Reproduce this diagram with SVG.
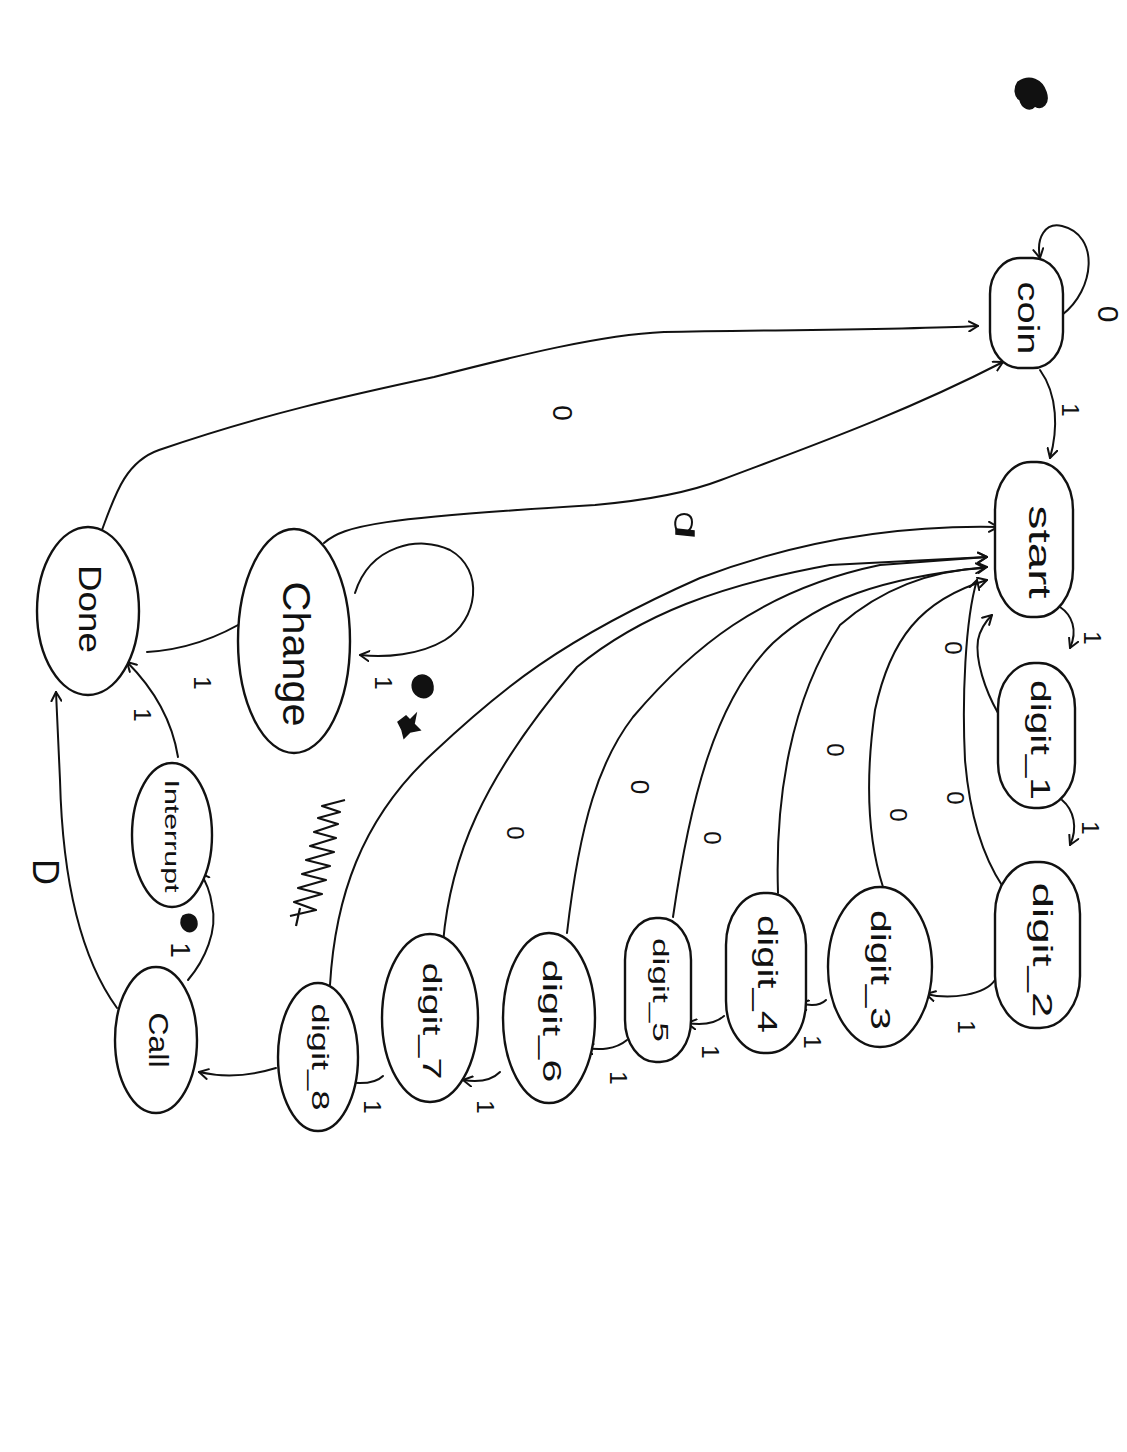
<svg xmlns="http://www.w3.org/2000/svg" width="1127" height="1452" viewBox="0 0 1127 1452">
<defs>
<marker id="arr" viewBox="0 0 12 12" refX="10" refY="6" markerWidth="12" markerHeight="12" markerUnits="userSpaceOnUse" orient="auto">
<path d="M1,1 L10,6 L1,11" fill="none" stroke="#111" stroke-width="2" stroke-linecap="round" stroke-linejoin="round"/>
</marker>
<style>
.node{fill:#fff;stroke:#111;stroke-width:2.4}
.lbl{font-family:"Liberation Sans","DejaVu Sans",sans-serif;fill:#111;text-anchor:middle;dominant-baseline:central}
.e{fill:none;stroke:#111;stroke-width:2;marker-end:url(#arr);stroke-linecap:round}
.el{font-family:"Liberation Sans","DejaVu Sans",sans-serif;fill:#111;text-anchor:middle;dominant-baseline:central}
.scr{fill:#111;stroke:#111;stroke-width:1.5}
</style>
</defs>
<rect width="1127" height="1452" fill="#fff"/>

<g id="connectors">
<path class="e" d="M1062,315 C1095,290 1100,235 1062,226 C1045,222 1036,238 1040,258"/>
<path class="e" d="M1040,370 C1058,395 1058,430 1050,458"/>
<path class="e" d="M1060,607 C1072,615 1078,630 1070,648"/>
<path class="e" d="M1062,800 C1074,810 1078,828 1070,845"/>
<path class="e" d="M995,980 C985,995 950,1000 926,994"/>
<path class="e" d="M826,1000 C820,1006 810,1006 799,1003"/>
<path class="e" d="M724,1016 C715,1024 700,1025 687,1023"/>
<path class="e" d="M627,1040 C615,1050 600,1050 584,1048"/>
<path class="e" d="M500,1072 C490,1082 475,1082 463,1080"/>
<path class="e" d="M383,1076 C375,1084 360,1084 346,1082"/>
<path class="e" d="M276,1068 C250,1076 225,1078 199,1072"/>
<path class="e" d="M117,1008 C75,950 62,860 60,780 L56,692"/>
<path class="e" d="M188,980 C205,960 218,930 212,905 C210,890 205,880 200,873"/>
<path class="e" d="M178,757 C172,720 155,690 127,662"/>
<path class="e" d="M147,652 C180,650 215,640 250,618"/>
<path class="e" d="M355,593 C370,545 420,535 450,550 C485,570 478,620 445,640 C420,655 385,658 360,655"/>
<path class="e" d="M324,543 C345,525 380,518 595,505 C650,500 690,492 721,480 C800,450 900,415 1003,362"/>
<path class="e" d="M102,530 C115,495 125,462 159,450 C260,415 350,395 434,377 C520,355 600,335 664,332 C760,330 900,330 978,326"/>
<path class="e" d="M998,713 C985,690 975,660 978,640 C980,630 985,622 992,615"/>
<path class="e" d="M1003,887 C985,860 970,820 965,760 C962,700 965,620 977,580"/>
<path class="e" d="M883,887 C868,840 865,780 875,710 C890,640 920,600 987,580"/>
<path class="e" d="M778,893 C775,800 790,700 840,625 C880,590 930,570 985,568"/>
<path class="e" d="M673,917 C690,800 715,700 773,643 C820,600 880,578 987,567"/>
<path class="e" d="M567,933 C580,820 600,760 633,717 C690,650 760,590 880,565 L987,557"/>
<path class="e" d="M443,943 C450,860 480,780 577,667 C640,615 720,585 830,565 L987,557"/>
<path class="e" d="M330,985 C335,900 360,820 433,753 C500,690 560,640 700,578 C800,540 900,525 998,527"/>
<text class="el" transform="translate(1108,314) rotate(90)" style="font-size:30px">0</text>
<text class="el" transform="translate(1070,410) rotate(90)" style="font-size:24px">1</text>
<text class="el" transform="translate(1092,638) rotate(90)" style="font-size:24px">1</text>
<text class="el" transform="translate(1090,828) rotate(90)" style="font-size:24px">1</text>
<text class="el" transform="translate(966,1027) rotate(90)" style="font-size:24px">1</text>
<text class="el" transform="translate(812,1042) rotate(90)" style="font-size:24px">1</text>
<text class="el" transform="translate(710,1052) rotate(90)" style="font-size:24px">1</text>
<text class="el" transform="translate(618,1078) rotate(90)" style="font-size:24px">1</text>
<text class="el" transform="translate(485,1107) rotate(90)" style="font-size:24px">1</text>
<text class="el" transform="translate(372,1107) rotate(90)" style="font-size:24px">1</text>
<text class="el" transform="translate(180,950) rotate(90)" style="font-size:28px">1</text>
<text class="el" transform="translate(142,715) rotate(90)" style="font-size:24px">1</text>
<text class="el" transform="translate(202,683) rotate(90)" style="font-size:24px">1</text>
<text class="el" transform="translate(383,683) rotate(90)" style="font-size:24px">1</text>
<text class="el" transform="translate(45,872) rotate(90)" style="font-size:36px">D</text>
<text class="el" transform="translate(562,413) rotate(90)" style="font-size:28px">0</text>
<text class="el" transform="translate(953,648) rotate(90)" style="font-size:24px">0</text>
<text class="el" transform="translate(955,798) rotate(90)" style="font-size:24px">0</text>
<text class="el" transform="translate(898,815) rotate(90)" style="font-size:24px">0</text>
<text class="el" transform="translate(835,750) rotate(90)" style="font-size:24px">0</text>
<text class="el" transform="translate(712,838) rotate(90)" style="font-size:24px">0</text>
<text class="el" transform="translate(640,787) rotate(90)" style="font-size:26px">0</text>
<text class="el" transform="translate(515,833) rotate(90)" style="font-size:24px">0</text>
</g>

<g id="scribbles">
<path class="scr" d="M1018,82 C1030,74 1042,80 1046,92 C1050,104 1042,110 1035,106 C1030,112 1022,108 1020,100 C1014,96 1014,88 1018,82 Z"/>
<path d="M678,516 C684,512 692,514 692,522 C692,530 686,534 680,532 C674,530 674,520 678,516 Z" fill="none" stroke="#111" stroke-width="2"/>
<path d="M676,529 L694,531 L694,536 L676,534 Z" class="scr"/>
<path class="scr" d="M415,678 C422,672 432,676 433,686 C434,696 425,700 418,696 C412,692 410,684 415,678 Z"/>
<path class="scr" d="M398,722 L406,716 L410,720 L416,714 L414,724 L420,730 L410,732 L404,738 L402,730 Z"/>
<path class="scr" d="M183,916 C190,912 197,916 197,924 C197,930 190,934 185,930 C180,926 180,920 183,916 Z"/>
<path d="M345,800 L322,806 L340,812 L318,818 L338,824 L314,832 L336,838 L310,846 L334,852 L306,860 L330,866 L302,874 L326,880 L298,888 L322,894 L294,902 L316,910 L290,916 M300,908 L296,926" fill="none" stroke="#111" stroke-width="2.2" stroke-linejoin="round"/>
</g>

<g id="coin"><rect class="node" x="990" y="258" width="73" height="110" rx="30" ry="36"/><text class="lbl" transform="translate(1028,318) rotate(90)" font-size="30" textLength="73" lengthAdjust="spacingAndGlyphs">coin</text></g>
<g id="start"><rect class="node" x="995" y="462" width="78" height="155" rx="36" ry="48"/><text class="lbl" transform="translate(1040,552) rotate(90)" font-size="32" textLength="93" lengthAdjust="spacingAndGlyphs">start</text></g>
<g id="digit_1"><rect class="node" x="998" y="663" width="77" height="145" rx="36" ry="45"/><text class="lbl" transform="translate(1040,740) rotate(90)" font-size="27" textLength="120" lengthAdjust="spacingAndGlyphs">digit_1</text></g>
<g id="digit_2"><rect class="node" x="995" y="862" width="85" height="166" rx="40" ry="52"/><text class="lbl" transform="translate(1042,950) rotate(90)" font-size="27" textLength="135" lengthAdjust="spacingAndGlyphs">digit_2</text></g>
<g id="digit_3"><ellipse class="node" cx="880" cy="967" rx="52" ry="80"/><text class="lbl" transform="translate(880,970) rotate(90)" font-size="27" textLength="120" lengthAdjust="spacingAndGlyphs">digit_3</text></g>
<g id="digit_4"><rect class="node" x="726" y="893" width="80" height="160" rx="38" ry="52"/><text class="lbl" transform="translate(767,974) rotate(90)" font-size="27" textLength="118" lengthAdjust="spacingAndGlyphs">digit_4</text></g>
<g id="digit_5"><rect class="node" x="625" y="918" width="66" height="144" rx="31" ry="42"/><text class="lbl" transform="translate(660,990) rotate(90)" font-size="22" textLength="104" lengthAdjust="spacingAndGlyphs">digit_5</text></g>
<g id="digit_6"><ellipse class="node" cx="549" cy="1018" rx="46" ry="85"/><text class="lbl" transform="translate(552,1021) rotate(90)" font-size="26" textLength="123" lengthAdjust="spacingAndGlyphs">digit_6</text></g>
<g id="digit_7"><ellipse class="node" cx="430" cy="1018" rx="48" ry="84"/><text class="lbl" transform="translate(432,1021) rotate(90)" font-size="26" textLength="117" lengthAdjust="spacingAndGlyphs">digit_7</text></g>
<g id="digit_8"><ellipse class="node" cx="318" cy="1057" rx="40" ry="74"/><text class="lbl" transform="translate(320,1057) rotate(90)" font-size="24" textLength="107" lengthAdjust="spacingAndGlyphs">digit_8</text></g>
<g id="Call"><ellipse class="node" cx="156" cy="1040" rx="41" ry="73"/><text class="lbl" transform="translate(158,1040) rotate(90)" font-size="28" textLength="55" lengthAdjust="spacingAndGlyphs">Call</text></g>
<g id="Interrupt"><ellipse class="node" cx="172" cy="835" rx="40" ry="72"/><text class="lbl" transform="translate(172,836) rotate(90)" font-size="20" textLength="113" lengthAdjust="spacingAndGlyphs">Interrupt</text></g>
<g id="Done"><ellipse class="node" cx="88" cy="611" rx="51" ry="84"/><text class="lbl" transform="translate(90,609) rotate(90)" font-size="32" textLength="88" lengthAdjust="spacingAndGlyphs">Done</text></g>
<g id="Change"><ellipse class="node" cx="294" cy="641" rx="56" ry="112"/><text class="lbl" transform="translate(296,654) rotate(90)" font-size="38" textLength="145" lengthAdjust="spacingAndGlyphs">Change</text></g>
</svg>
